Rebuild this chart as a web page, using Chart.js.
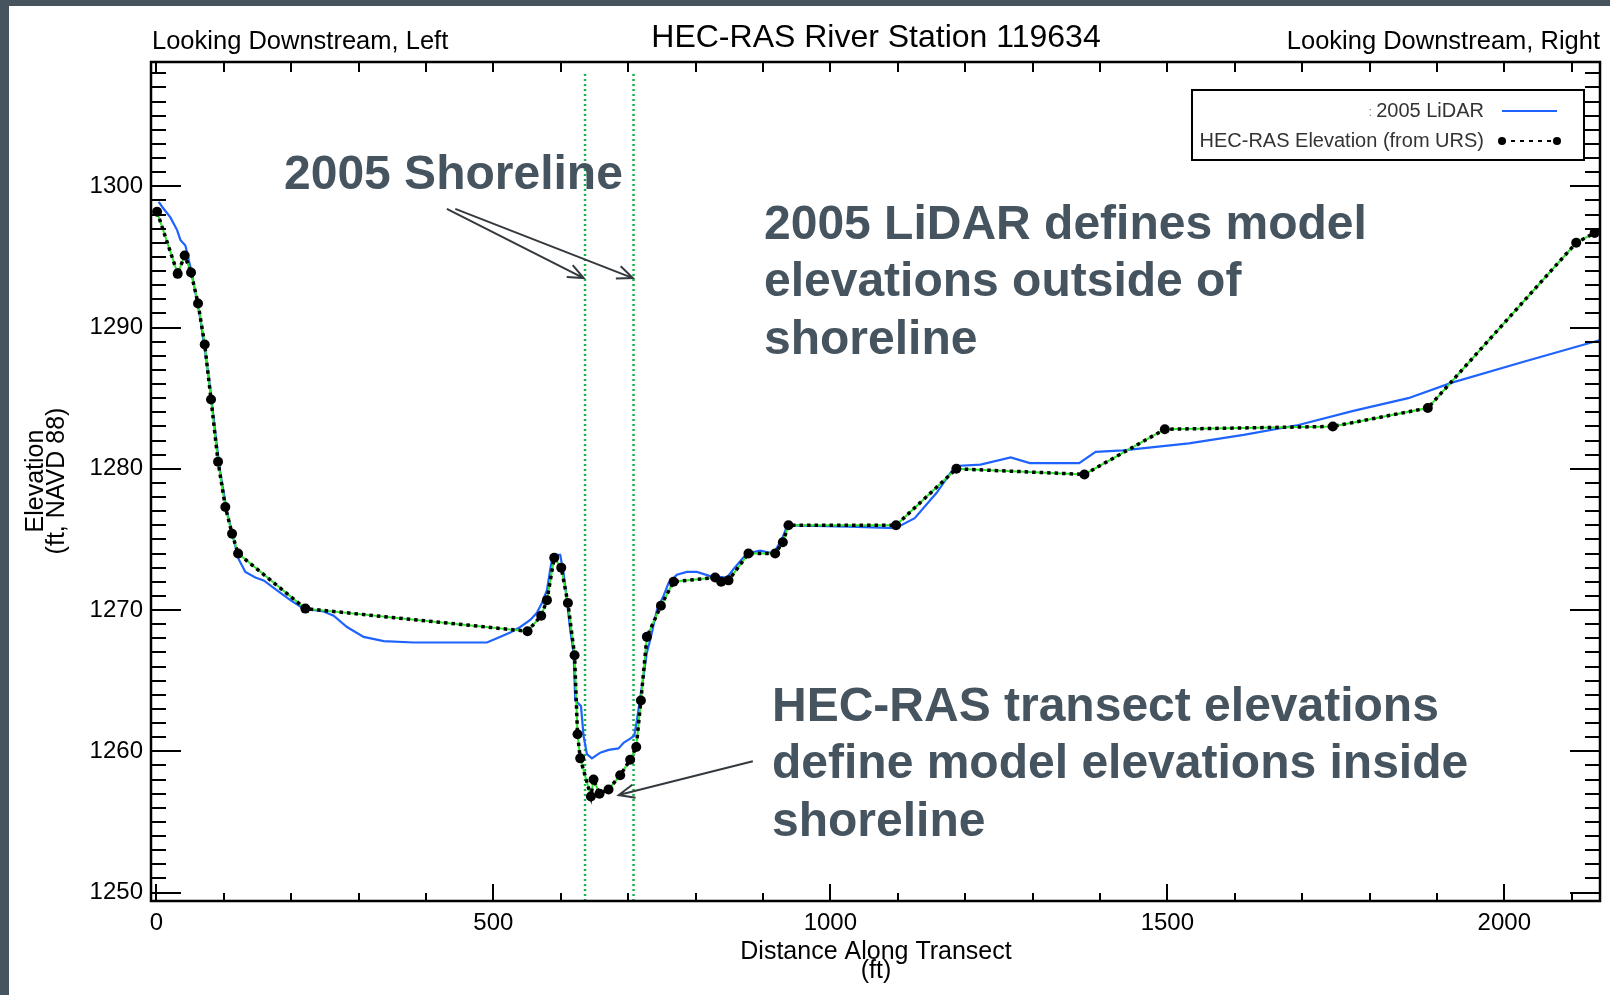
<!DOCTYPE html>
<html>
<head>
<meta charset="utf-8">
<title>HEC-RAS River Station 119634</title>
<script src="https://cdn.jsdelivr.net/npm/chart.js@4.4.1/dist/chart.umd.min.js"></script>
<style>
  html, body { margin: 0; padding: 0; background: #45545f; }
  #wrap { width: 1610px; height: 995px; }
</style>
</head>
<body>
<div id="wrap"><canvas id="xsChart" width="1610" height="995"></canvas></div>
<script>
const FONT = "'Liberation Sans', Arial, Helvetica, sans-serif";

// HEC-RAS transect points (station ft, elevation ft NAVD 88)
const hecStation = [1, 31.6, 42, 51.4, 61.8, 71.7, 81.1, 91.5, 102.3, 112.3,
  121.2, 221, 550.7, 571, 579.5, 590.3, 600.7, 610.6, 620.5, 624.9,
  628.9, 644.7, 648.6, 657.5, 670.9, 688.2, 703, 712, 718.9, 727.8,
  748.6, 767.3, 829.1, 838, 848.9, 878.5, 918.1, 929.5, 937.9, 1097.5,
  1187, 1377, 1496.3, 1745.5, 1886.5, 2106.7, 2134];
const hecElev = [1298.2, 1293.8, 1295.1, 1293.9, 1291.7, 1288.8, 1284.9, 1280.5, 1277.3, 1275.4,
  1274.0, 1270.1, 1268.5, 1269.6, 1270.7, 1273.7, 1273.0, 1270.5, 1266.8, 1261.2,
  1259.5, 1256.8, 1258.0, 1257.0, 1257.3, 1258.3, 1259.4, 1260.3, 1263.6, 1268.1,
  1270.3, 1272.0, 1272.3, 1272.0, 1272.1, 1274.0, 1274.0, 1274.8, 1276.0, 1276.0,
  1280.0, 1279.6, 1282.8, 1283.0, 1284.3, 1296.0, 1296.7];

// 2005 LiDAR ground profile along the same transect
const lidarStation = [3.4, 9.3, 20.8, 30.7, 35.6, 43, 50.4, 57.8, 65.3, 72.7,
  80.1, 87.5, 94.9, 104.9, 114.7, 122.1, 132, 146.8, 159.2, 179,
  198.8, 218.5, 248.2, 263, 282.8, 307.5, 337.2, 381.6, 431.2, 490.5,
  505.3, 525, 539.9, 554.7, 564.6, 572, 579.5, 584.4, 588.3, 599.2,
  604.2, 609.1, 614, 619, 621.5, 630, 633.8, 638.8, 646.2, 658.6,
  671, 685.7, 693.2, 703, 709, 713, 720.4, 727.8, 731.7, 735.2,
  742.6, 752.4, 759.9, 772.3, 787.1, 801.9, 821.7, 846.5, 856.2, 876,
  895.9, 915.6, 928, 935.5, 942.9, 1027.4, 1096.7, 1125.2, 1157.7, 1178,
  1186.1, 1222.8, 1267.6, 1296, 1369.2, 1393.6, 1434.3, 1531.9, 1613.3, 1694.6,
  1776, 1857.5, 1922.4, 2030, 2141];
const lidarElev = [1298.9, 1298.5, 1297.8, 1296.9, 1296.2, 1295.8, 1294.3, 1292.5, 1290.6, 1288.2,
  1285.6, 1282.5, 1279.7, 1276.9, 1275.0, 1273.6, 1272.7, 1272.3, 1272.1, 1271.4,
  1270.7, 1270.1, 1269.9, 1269.6, 1268.8, 1268.1, 1267.8, 1267.7, 1267.7, 1267.7,
  1268.0, 1268.4, 1268.8, 1269.3, 1269.8, 1270.5, 1271.4, 1272.9, 1273.9, 1273.9,
  1272.6, 1270.7, 1268.6, 1267.0, 1263.6, 1263.2, 1261.1, 1259.8, 1259.5, 1259.9,
  1260.1, 1260.2, 1260.6, 1260.9, 1261.1, 1262.2, 1264.6, 1267.0, 1267.7, 1268.4,
  1270.0, 1271.0, 1271.9, 1272.5, 1272.7, 1272.7, 1272.4, 1272.3, 1272.9, 1274.0,
  1274.2, 1274.0, 1275.0, 1275.9, 1276.0, 1275.9, 1275.8, 1276.5, 1278.3, 1279.7,
  1280.2, 1280.3, 1280.8, 1280.4, 1280.4, 1281.2, 1281.3, 1281.8, 1282.4, 1283.1,
  1284.1, 1285.0, 1286.1, 1287.6, 1289.1];

// 2005 shoreline stations
const shorelineStation = [636, 708];

const xTicks = [0, 500, 1000, 1500, 2000];
const yTicks = [1250, 1260, 1270, 1280, 1290, 1300];

const X_MIN = -8, X_MAX = 2142;
const Y_MIN = 1249.4, Y_MAX = 1308.8;
const SHORE_TOP = 1308;

const SLATE = '#45545f';
const LIDAR_BLUE = '#1f63ff';

const toPoints = (xs, ys) => xs.map((x, i) => ({ x: x, y: ys[i] }));

// callout arrows, given in station / elevation
const arrows = [
  { from: [431, 1298.4], to: [634, 1293.5] },
  { from: [443.5, 1298.4], to: [707, 1293.5] },
  { from: [885, 1259.3], to: [686, 1256.9] }
];

function drawArrow(ctx, x1, y1, x2, y2) {
  const ang = Math.atan2(y2 - y1, x2 - x1);
  const head = 17;
  ctx.beginPath();
  ctx.moveTo(x1, y1);
  ctx.lineTo(x2, y2);
  ctx.moveTo(x2 - head * Math.cos(ang - 0.4), y2 - head * Math.sin(ang - 0.4));
  ctx.lineTo(x2, y2);
  ctx.lineTo(x2 - head * Math.cos(ang + 0.4), y2 - head * Math.sin(ang + 0.4));
  ctx.stroke();
}

const frameAndNotes = {
  id: 'frameAndNotes',
  beforeDraw(chart) {
    const ctx = chart.ctx;
    ctx.save();
    ctx.fillStyle = SLATE;
    ctx.fillRect(0, 0, chart.width, chart.height);
    ctx.fillStyle = '#ffffff';
    ctx.fillRect(9, 6, chart.width - 9, chart.height - 6);
    ctx.restore();
  },
  afterDatasetsDraw(chart) {
    const { ctx, chartArea: a, scales: { x, y } } = chart;
    ctx.save();

    // plot frame with inward ticks
    ctx.strokeStyle = '#000';
    ctx.lineWidth = 2.5;
    ctx.strokeRect(a.left, a.top, a.right - a.left, a.bottom - a.top);
    ctx.lineWidth = 2;
    ctx.beginPath();
    for (let v = 1250; v <= 1308; v++) {
      const py = Math.round(y.getPixelForValue(v));
      const len = v % 10 === 0 ? 30 : 15;
      ctx.moveTo(a.left, py); ctx.lineTo(a.left + len, py);
      ctx.moveTo(a.right, py); ctx.lineTo(a.right - len, py);
    }
    for (let d = 0; d <= 2100; d += 100) {
      const px = Math.round(x.getPixelForValue(d));
      ctx.moveTo(px, a.bottom); ctx.lineTo(px, a.bottom - (d % 500 === 0 ? 17 : 8));
      ctx.moveTo(px, a.top); ctx.lineTo(px, a.top + 10);
    }
    ctx.stroke();

    // titles
    ctx.fillStyle = '#000';
    ctx.textBaseline = 'middle';
    ctx.textAlign = 'center';
    ctx.font = `32px ${FONT}`;
    ctx.fillText('HEC-RAS River Station 119634', 876, 38);
    ctx.font = `25.5px ${FONT}`;
    ctx.textAlign = 'left';
    ctx.fillText('Looking Downstream, Left', 152, 42);
    ctx.textAlign = 'right';
    ctx.fillText('Looking Downstream, Right', 1600, 42);

    // axis titles
    ctx.font = `25px ${FONT}`;
    ctx.textAlign = 'center';
    ctx.fillText('Distance Along Transect', 876, 952);
    ctx.fillText('(ft)', 876, 971);
    ctx.save();
    ctx.translate(36, 481);
    ctx.rotate(-Math.PI / 2);
    ctx.fillText('Elevation', 0, 0);
    ctx.fillText('(ft, NAVD 88)', 0, 21);
    ctx.restore();

    // legend
    ctx.lineWidth = 2;
    ctx.strokeStyle = '#000';
    ctx.strokeRect(1192, 90, 392, 70);
    ctx.font = `20px ${FONT}`;
    ctx.textAlign = 'right';
    ctx.fillStyle = '#333';
    ctx.fillText('2005 LiDAR', 1484, 111);
    ctx.fillText('HEC-RAS Elevation (from URS)', 1484, 141);
    ctx.font = `13px ${FONT}`;
    ctx.fillStyle = '#888';
    ctx.fillText(':', 1372, 112);
    ctx.strokeStyle = LIDAR_BLUE;
    ctx.beginPath(); ctx.moveTo(1502, 111); ctx.lineTo(1557, 111); ctx.stroke();
    ctx.strokeStyle = '#000';
    ctx.setLineDash([4, 5]);
    ctx.beginPath(); ctx.moveTo(1502, 141); ctx.lineTo(1557, 141); ctx.stroke();
    ctx.setLineDash([]);
    ctx.fillStyle = '#000';
    [1502, 1557].forEach(px => {
      ctx.beginPath(); ctx.arc(px, 141, 4, 0, Math.PI * 2); ctx.fill();
    });

    // callouts
    ctx.fillStyle = SLATE;
    ctx.font = `bold 48px ${FONT}`;
    ctx.textAlign = 'left';
    ctx.textBaseline = 'alphabetic';
    ctx.fillText('2005 Shoreline', 284, 189);
    ['2005 LiDAR defines model', 'elevations outside of', 'shoreline']
      .forEach((t, i) => ctx.fillText(t, 764, 238.5 + i * 57.5));
    ['HEC-RAS transect elevations', 'define model elevations inside', 'shoreline']
      .forEach((t, i) => ctx.fillText(t, 772, 720.5 + i * 57.5));

    ctx.strokeStyle = '#33393e';
    ctx.lineWidth = 2;
    arrows.forEach(ar => {
      drawArrow(ctx,
        x.getPixelForValue(ar.from[0]), y.getPixelForValue(ar.from[1]),
        x.getPixelForValue(ar.to[0]), y.getPixelForValue(ar.to[1]));
    });

    ctx.restore();
  }
};

const hecPoints = toPoints(hecStation, hecElev);

const shorelineSets = shorelineStation.map(s => ({
  label: 'Shoreline',
  data: [{ x: s, y: Y_MIN }, { x: s, y: SHORE_TOP }],
  showLine: true,
  borderColor: '#16b34a',
  borderWidth: 2.5,
  borderDash: [2, 3],
  pointRadius: 0
}));

const plainTick = v => String(v);

const ctx = document.getElementById('xsChart').getContext('2d');
new Chart(ctx, {
  type: 'scatter',
  data: {
    datasets: [
      {
        label: 'HEC-RAS Elevation (from URS)',
        data: hecPoints,
        showLine: true,
        borderColor: '#000',
        borderWidth: 3.5,
        borderDash: [3.5, 4],
        borderCapStyle: 'butt',
        pointRadius: 5,
        pointBackgroundColor: '#000',
        pointBorderColor: '#000',
        pointBorderWidth: 0,
        tension: 0
      },
      {
        label: 'HEC-RAS underlay',
        data: hecPoints,
        showLine: true,
        borderColor: '#2ee82e',
        borderWidth: 2,
        pointRadius: 0,
        tension: 0
      },
      {
        label: '2005 LiDAR',
        data: toPoints(lidarStation, lidarElev),
        showLine: true,
        borderColor: LIDAR_BLUE,
        borderWidth: 2.2,
        pointRadius: 0,
        tension: 0
      },
      ...shorelineSets
    ]
  },
  options: {
    responsive: false,
    animation: false,
    events: [],
    layout: { padding: { top: 62, right: 10, left: 0, bottom: 0 } },
    scales: {
      x: {
        type: 'linear',
        min: X_MIN,
        max: X_MAX,
        grid: { display: false, drawTicks: false },
        border: { display: false },
        ticks: { color: '#000', font: { family: FONT, size: 24 }, padding: 8, maxRotation: 0, autoSkip: false, callback: plainTick },
        afterBuildTicks: s => { s.ticks = xTicks.map(v => ({ value: v })); },
        afterFit: s => { s.height = 94; }
      },
      y: {
        type: 'linear',
        min: Y_MIN,
        max: Y_MAX,
        grid: { display: false, drawTicks: false },
        border: { display: false },
        ticks: { color: '#000', font: { family: FONT, size: 24 }, padding: 8, autoSkip: false, callback: plainTick },
        afterBuildTicks: s => { s.ticks = yTicks.map(v => ({ value: v })); },
        afterFit: s => { s.width = 151; }
      }
    },
    plugins: {
      legend: { display: false },
      tooltip: { enabled: false }
    }
  },
  plugins: [frameAndNotes]
});
</script>
</body>
</html>
